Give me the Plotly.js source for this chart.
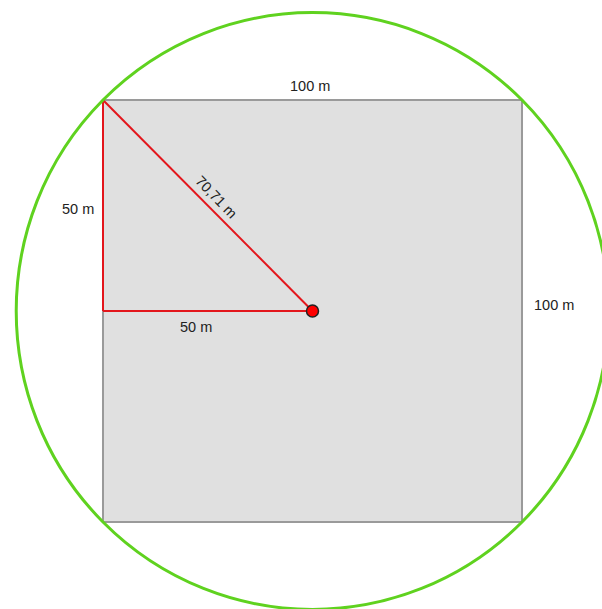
<!DOCTYPE html>
<html>
<head>
<meta charset="utf-8">
<script src="https://cdn.plot.ly/plotly-3.0.1.min.js"></script>
<style>html,body{margin:0;padding:0;background:#fff;}#chart{width:602px;height:609px;}</style>
</head>
<body>
<div id="chart"></div>
<script>
// Square field (side in m)
var squareX = [0, 100, 100, 0, 0];
var squareY = [0, 0, 100, 100, 0];
// Centre point and radius of the circumscribed circle (m)
var centerPoint = [50, 50];
var radius = 70.71;
// Red right triangle: top-left corner -> centre, vertical leg, horizontal leg
var diagX = [0, 50];
var diagY = [100, 50];
var legVX = [0, 0];
var legVY = [100, 50];
var legHX = [0, 50];
var legHY = [50, 50];
// Labels
var labelTexts = ["100 m", "50 m", "70,71 m", "50 m", "100 m"];

var red = "#e3161c";
var traces = [
  {x: squareX, y: squareY, mode: "lines", fill: "toself", fillcolor: "#e0e0e0",
   line: {color: "#9a9a9a", width: 2}, hoverinfo: "skip"},
  {x: legVX, y: legVY, mode: "lines", line: {color: red, width: 2}, hoverinfo: "skip"},
  {x: legHX, y: legHY, mode: "lines", line: {color: red, width: 2}, hoverinfo: "skip"},
  {x: diagX, y: diagY, mode: "lines", line: {color: red, width: 2}, hoverinfo: "skip"},
  {x: [centerPoint[0]], y: [centerPoint[1]], mode: "markers",
   marker: {color: "#ff0000", size: 12, line: {color: "#222", width: 1.5}}, hoverinfo: "skip"}
];

var font = {family: "Liberation Sans, Arial, sans-serif", size: 14.5, color: "#222"};
var layout = {
  width: 602, height: 609,
  margin: {l: 0, r: 0, t: 0, b: 0},
  paper_bgcolor: "#fff", plot_bgcolor: "#fff",
  showlegend: false,
  xaxis: {range: [-24.58, 119.09], showgrid: false, zeroline: false, showticklabels: false, showline: false, fixedrange: true},
  yaxis: {range: [-20.62, 123.70], showgrid: false, zeroline: false, showticklabels: false, showline: false, fixedrange: true},
  shapes: [
    {type: "circle", xref: "x", yref: "y",
     x0: centerPoint[0] - radius, x1: centerPoint[0] + radius,
     y0: centerPoint[1] - radius, y1: centerPoint[1] + radius,
     line: {color: "#5fd21f", width: 3}, layer: "above"}
  ],
  annotations: [
    {x: 49.4, y: 103.3, text: labelTexts[0], showarrow: false, font: font},
    {x: -6.0, y: 74.2, text: labelTexts[1], showarrow: false, font: font},
    {x: 27.0, y: 77.0, text: labelTexts[2], showarrow: false, font: font, textangle: 46},
    {x: 22.2, y: 46.2, text: labelTexts[3], showarrow: false, font: font},
    {x: 107.6, y: 51.4, text: labelTexts[4], showarrow: false, font: font}
  ]
};
Plotly.newPlot("chart", traces, layout, {displayModeBar: false, staticPlot: true});
</script>
</body>
</html>
